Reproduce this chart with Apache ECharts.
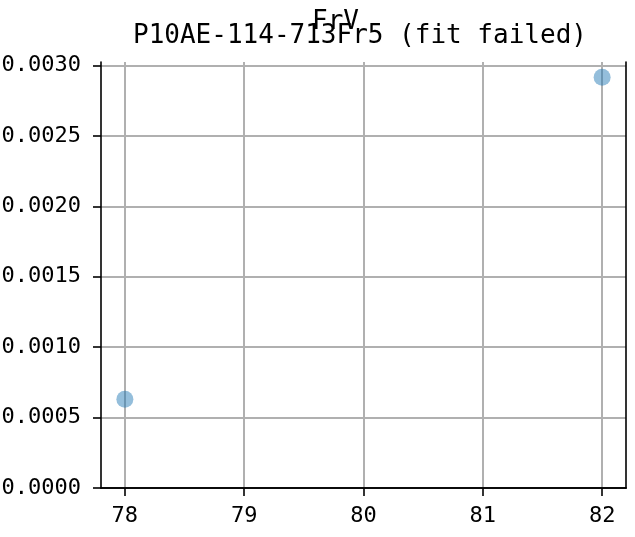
<!DOCTYPE html>
<html>
<head>
<meta charset="utf-8">
<script src="https://cdn.jsdelivr.net/npm/echarts@6/dist/echarts.min.js"></script>
<style>
html,body{margin:0;padding:0;background:#fff;}
#chart{width:635px;height:537px;}
</style>
</head>
<body>
<div id="chart"></div>
<script>
const suptitleText = 'FrV';
const titleText = 'P10AE-114-713Fr5 (fit failed)';
const xValues = [78, 82];
const yValues = [0.00063, 0.002915];
const xTicks = [78, 79, 80, 81, 82];
const yTicks = [0, 0.0005, 0.001, 0.0015, 0.002, 0.0025, 0.003];

const FONT = 'DejaVu Sans Mono';
const chart = echarts.init(document.getElementById('chart'), null, {renderer: 'canvas'});
const points = xValues.map((x, i) => [x, yValues[i]]);

const option = {
  backgroundColor: '#fff',
  animation: false,
  title: [
    {text: suptitleText, left: 312, top: 9, padding: 0,
     textStyle: {fontFamily: FONT, fontSize: 26, fontWeight: 'normal', color: '#000'}},
    {text: titleText, left: 133, top: 23, padding: 0,
     textStyle: {fontFamily: FONT, fontSize: 26, fontWeight: 'normal', color: '#000'}}
  ],
  grid: {left: 101, right: 9, top: 62, bottom: 49, containLabel: false, outerBoundsMode: 'none'},
  xAxis: [{
    type: 'value', min: 77.8, max: 82.2,
    axisLine: {show: true, onZero: false, lineStyle: {color: '#000', width: 1.6}},
    axisTick: {show: true, length: 8, customValues: xTicks, lineStyle: {color: '#000', width: 1.6}},
    axisLabel: {customValues: xTicks, margin: 17, fontFamily: FONT, fontSize: 22, color: '#000',
      formatter: v => String(Math.round(v))},
    splitLine: {show: true, lineStyle: {color: '#b0b0b0', width: 2}}
  }, {
    type: 'value', position: 'top', min: 77.8, max: 82.2,
    axisLine: {show: true, lineStyle: {color: '#000', width: 1.6}},
    axisTick: {show: false}, axisLabel: {show: false}, splitLine: {show: false}
  }],
  yAxis: [{
    type: 'value', min: 0, max: 0.003024,
    axisLine: {show: true, onZero: false, lineStyle: {color: '#000', width: 1.6}},
    axisTick: {show: true, length: 8, customValues: yTicks, lineStyle: {color: '#000', width: 1.6}},
    axisLabel: {customValues: yTicks, margin: 20, fontFamily: FONT, fontSize: 22, color: '#000',
      formatter: v => v.toFixed(4)},
    splitLine: {show: true, lineStyle: {color: '#b0b0b0', width: 2}}
  }, {
    type: 'value', position: 'right', min: 0, max: 0.003024,
    axisLine: {show: true, lineStyle: {color: '#000', width: 1.6}},
    axisTick: {show: false}, axisLabel: {show: false}, splitLine: {show: false}
  }],
  series: [{
    type: 'scatter',
    xAxisIndex: 0, yAxisIndex: 0,
    data: points,
    symbol: 'circle',
    symbolSize: 17,
    itemStyle: {color: 'rgba(31,119,180,0.6)'},
    z: 5
  }]
};
chart.setOption(option);
</script>
</body>
</html>
